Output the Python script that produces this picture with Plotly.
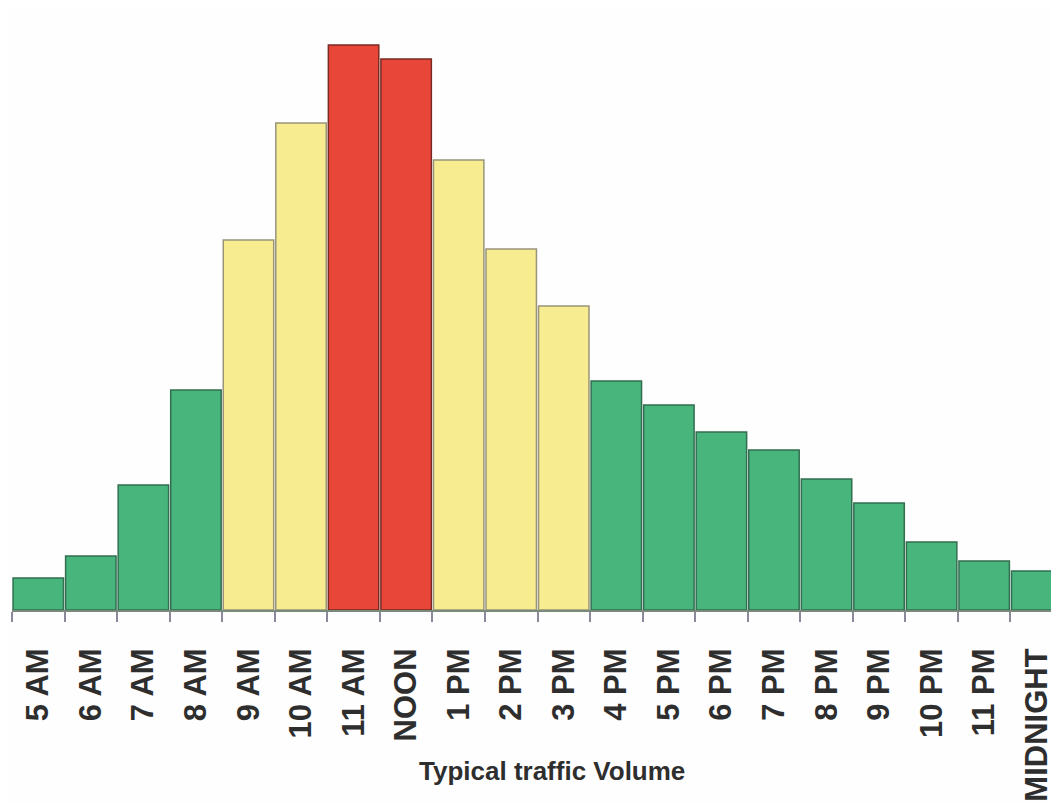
import plotly.graph_objects as go

# ── DATOS ──────────────────────────────────────────────────────
horas = ["5 AM", "6 AM", "7 AM", "8 AM", "9 AM", "10 AM", "11 AM", "NOON",
         "1 PM", "2 PM", "3 PM", "4 PM", "5 PM", "6 PM", "7 PM", "8 PM",
         "9 PM", "10 PM", "11 PM", "MIDNIGHT"]
volumen = [32, 54, 125, 220, 370, 487, 565, 551, 450, 361, 304,
           229, 205, 178, 160, 131, 107, 68, 49, 39]
nivel = ["bajo", "bajo", "bajo", "bajo", "medio", "medio", "alto", "alto",
         "medio", "medio", "medio", "bajo", "bajo", "bajo", "bajo", "bajo",
         "bajo", "bajo", "bajo", "bajo"]

# ── ESTILO ─────────────────────────────────────────────────────
COLORES = {"bajo": "#47b57c", "medio": "#f8ec90", "alto": "#e9463a"}
BORDES = {"bajo": "#336e50", "medio": "#98957a", "alto": "#7a2a22"}

fig = go.Figure(go.Bar(
    x=horas,
    y=volumen,
    marker=dict(color=[COLORES[n] for n in nivel],
                line=dict(color=[BORDES[n] for n in nivel], width=1.5)),
    hoverinfo="x+y",
))

# el body de la pagina agrega 8px de margen: se compensa con el tamaño
fig.update_layout(
    width=1055, height=795,
    margin=dict(l=4, r=0, t=0, b=193),
    paper_bgcolor="#fefefe",
    plot_bgcolor="#fefefe",
    bargap=0.04,
    showlegend=False,
    font=dict(family="Liberation Sans, Arial, sans-serif", color="#333333"),
    xaxis=dict(
        type="category",
        automargin=False,
        tickangle=-90,
        tickson="boundaries",
        ticks="outside",
        ticklen=10,
        tickwidth=2,
        tickcolor="#8a8a9a",
        ticklabelstandoff=24,
        tickfont=dict(size=31, family="Liberation Sans, Arial, sans-serif",
                      color="#2e2e2e", weight="bold"),
        showline=True,
        linecolor="#7a8a7a",
        linewidth=2,
        showgrid=False,
        fixedrange=True,
    ),
    yaxis=dict(
        range=[0, 602],
        visible=False,
        automargin=False,
        showgrid=False,
        fixedrange=True,
    ),
    annotations=[dict(
        text="<b>Typical traffic Volume</b>",
        x=0.514, y=-0.267, xref="paper", yref="paper",
        xanchor="center", yanchor="middle",
        showarrow=False,
        font=dict(size=26, color="#2e2e2e"),
    )],
)

fig.write_html("out.html")
